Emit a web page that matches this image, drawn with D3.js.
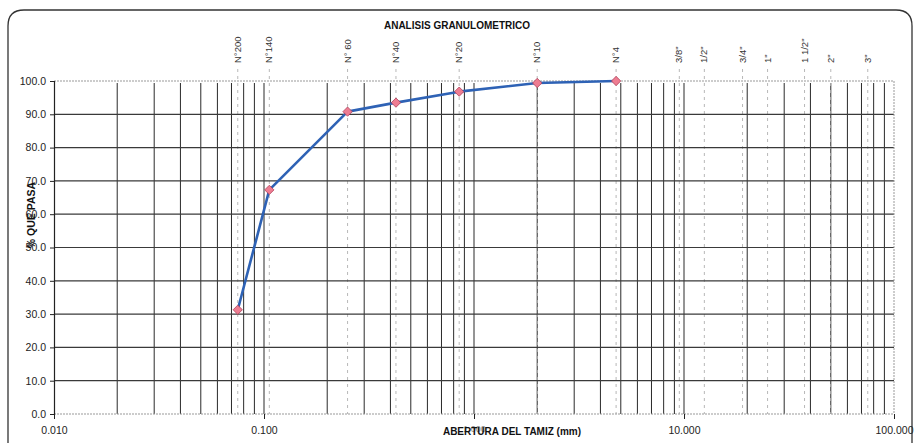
<!DOCTYPE html>
<html>
<head>
<meta charset="utf-8">
<script src="https://cdn.jsdelivr.net/npm/d3@7"></script>
<style>
  body { margin: 0; background: #fff; }
  svg { font-family: "Liberation Sans", Arial, sans-serif; }
</style>
</head>
<body>
<div id="chart"></div>
<script>
// sieve openings (mm) and % passing
var abertura = [0.075, 0.106, 0.25, 0.425, 0.85, 2.0, 4.75];
var pasa = [31.3, 67.3, 90.8, 93.5, 96.8, 99.4, 100.0];

// sieve names drawn on top
var tamices = ["N°200", "N°140", "N° 60", "N°40", "N°20", "N°10", "N°4", "3/8\"", "1/2\"", "3/4\"", "1\"", "1 1/2\"", "2\"", "3\""];
var tamizMM = [0.075, 0.106, 0.25, 0.425, 0.85, 2.0, 4.75, 9.5, 12.5, 19, 25, 37.5, 50, 75];

var xTicks = [0.01, 0.1, 1, 10, 100];
var xTickLabels = ["0.010", "0.100", "1.000", "10.000", "100.000"];
var yTicks = [0, 10, 20, 30, 40, 50, 60, 70, 80, 90, 100];

var W = 914, H = 443;
var margin = {top: 81, right: 20, bottom: 29, left: 54};
var width = 894 - margin.left,
    height = 414 - margin.top;

var svg = d3.select("#chart").append("svg")
    .attr("width", W)
    .attr("height", H);

// rounded frame
svg.append("path")
    .attr("d", "M8,460 L8,26 Q8,10 24,10 L896,10 Q912,10 912,26 L912,460")
    .style("fill", "none")
    .style("stroke", "#333")
    .style("stroke-width", 1.3);

var g = svg.append("g")
    .attr("transform", "translate(" + margin.left + "," + margin.top + ")");

var x = d3.scaleLog().domain([0.01, 100]).range([0, width]);
var y = d3.scaleLinear().domain([0, 100]).range([height, 0]);

// minor log grid (solid)
var minors = [];
xTicks.forEach(function(t, i) {
    if (i == xTicks.length - 1) return;
    for (var k = 2; k <= 9; k++) minors.push(t * k);
    if (i > 0) minors.push(t);
});
g.selectAll(".vgrid")
    .data(minors)
    .enter().append("line")
    .attr("x1", function(d) { return x(d); })
    .attr("x2", function(d) { return x(d); })
    .attr("y1", 2)
    .attr("y2", height)
    .style("stroke", "#2a2a2a")
    .style("stroke-width", 1);

// dashed sieve lines
g.selectAll(".sgrid")
    .data(tamizMM)
    .enter().append("line")
    .attr("x1", function(d) { return x(d); })
    .attr("x2", function(d) { return x(d); })
    .attr("y1", -12)
    .attr("y2", height)
    .style("stroke", "#b8b8b8")
    .style("stroke-width", 1)
    .style("stroke-dasharray", "3,4");

// horizontal grid
g.selectAll(".hgrid")
    .data(yTicks.filter(function(d) { return d > 0 && d < 100; }))
    .enter().append("line")
    .attr("x1", 0)
    .attr("x2", width)
    .attr("y1", function(d) { return y(d); })
    .attr("y2", function(d) { return y(d); })
    .style("stroke", "#3a3a3a")
    .style("stroke-width", 1.2);

// top, bottom and right light borders
[[0, 0, width, 0], [0, height, width, height], [width, 0, width, height]].forEach(function(l) {
    g.append("line")
        .attr("x1", l[0]).attr("y1", l[1]).attr("x2", l[2]).attr("y2", l[3])
        .style("stroke", "#999")
        .style("stroke-width", 1)
        .style("stroke-dasharray", "2,1");
});

// Y axis
var yAxis = d3.axisLeft(y).tickValues(yTicks).tickFormat(d3.format(".1f")).tickSize(4);
var ya = g.append("g").call(yAxis);
ya.select(".domain").style("stroke", "#222").style("stroke-width", 1.2);
ya.selectAll(".tick line").style("stroke", "#222");
ya.selectAll("text").style("font-size", "10.5px").style("fill", "#222").attr("x", -8);

// X axis
var xAxis = d3.axisBottom(x).tickValues(xTicks).tickFormat(function(d, i) { return xTickLabels[i]; }).tickSize(5);
var xa = g.append("g").attr("transform", "translate(0," + height + ")").call(xAxis);
xa.select(".domain").remove();
xa.selectAll(".tick line").style("stroke", "#222");
xa.selectAll("text").style("font-size", "10.5px").style("fill", "#222").attr("dy", "1.15em");
// the 1.000 label sits under the axis title in the original
xa.selectAll("text").filter(function(d) { return d == 1; }).style("fill", "#888").style("font-size", "9px");

// sieve labels
g.selectAll(".slabel")
    .data(tamices)
    .enter().append("text")
    .attr("transform", function(d, i) { return "translate(" + (x(tamizMM[i]) + 3) + ",-18) rotate(-90)"; })
    .style("text-anchor", "start")
    .style("font-size", "9.5px")
    .style("fill", "#333")
    .text(function(d) { return d; });

// curve
var line_value = d3.line()
    .x(function(d, i) { return x(abertura[i]); })
    .y(function(d) { return y(d); });

g.append("path")
    .attr("d", line_value(pasa))
    .style("fill", "none")
    .style("stroke", "#2e62b5")
    .style("stroke-width", 2.6)
    .style("stroke-linejoin", "round");

g.selectAll(".pt")
    .data(pasa)
    .enter().append("path")
    .attr("d", d3.symbol().type(d3.symbolDiamond2).size(55))
    .attr("transform", function(d, i) { return "translate(" + x(abertura[i]) + "," + y(d) + ")"; })
    .style("fill", "#ee7d92")
    .style("stroke", "#b0405a")
    .style("stroke-width", 0.8);

// title
svg.append("text")
    .attr("x", 457).attr("y", 29)
    .style("text-anchor", "middle")
    .style("font-size", "10px")
    .style("font-weight", "bold")
    .style("fill", "#111")
    .text("ANALISIS  GRANULOMETRICO");

// axis titles
svg.append("text")
    .attr("x", 512).attr("y", 435)
    .style("text-anchor", "middle")
    .style("font-size", "10px")
    .style("font-weight", "bold")
    .style("fill", "#111")
    .text("ABERTURA DEL TAMIZ (mm)");

svg.append("text")
    .attr("transform", "translate(35,215) rotate(-90)")
    .style("text-anchor", "middle")
    .style("font-size", "10.5px")
    .style("font-weight", "bold")
    .style("fill", "#111")
    .text("% QUE PASA");
</script>
</body>
</html>
